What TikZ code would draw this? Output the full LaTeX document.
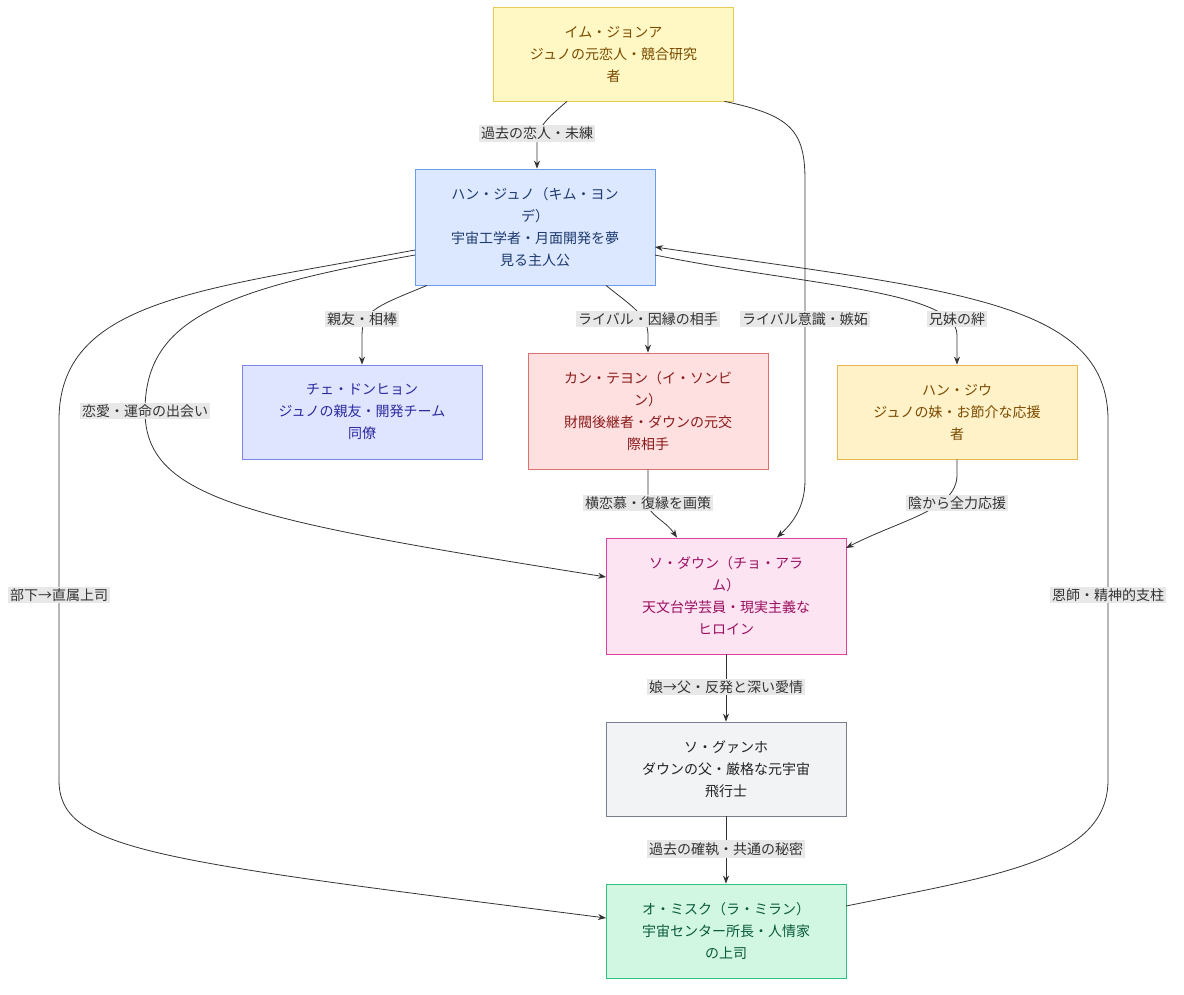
\documentclass[tikz,border=0pt]{standalone}
\usepackage{fontspec}
\newfontfamily\cjk{Noto Sans CJK JP}
\usetikzlibrary{arrows.meta}
\definecolor{lbl}{HTML}{E8E8E8}
\definecolor{f1}{HTML}{FFF8C4}\definecolor{d1}{HTML}{E6CC55}\definecolor{t1}{HTML}{7A4A00}
\definecolor{f2}{HTML}{DBE8FF}\definecolor{d2}{HTML}{6C9BE8}\definecolor{t2}{HTML}{1E3A6E}
\definecolor{f3}{HTML}{E0E5FF}\definecolor{d3}{HTML}{7C84F0}\definecolor{t3}{HTML}{2A2AA0}
\definecolor{f4}{HTML}{FFE0E0}\definecolor{d4}{HTML}{E07070}\definecolor{t4}{HTML}{8A1A1A}
\definecolor{f5}{HTML}{FFF2C8}\definecolor{d5}{HTML}{E8B84F}\definecolor{t5}{HTML}{7A4A00}
\definecolor{f6}{HTML}{FDE4F2}\definecolor{d6}{HTML}{E040A0}\definecolor{t6}{HTML}{9A1060}
\definecolor{f7}{HTML}{F1F3F5}\definecolor{d7}{HTML}{7A7F90}\definecolor{t7}{HTML}{222222}
\definecolor{f8}{HTML}{D1F7E3}\definecolor{d8}{HTML}{30C080}\definecolor{t8}{HTML}{0A5A3A}
\tikzset{
 box/.style={draw, line width=0.8pt, minimum width=240pt, align=center, font=\cjk\fontsize{14}{22}\selectfont, inner sep=4pt},
 lab/.style={fill=lbl, text=black!80, font=\cjk\fontsize{14}{18}\selectfont, inner sep=2pt},
 ed/.style={draw=black!80, line width=0.8pt, -{Stealth[length=8pt,width=6pt]}},
}
\begin{document}
\begin{tikzpicture}[x=1pt,y=-1pt]
\useasboundingbox (0,0) rectangle (1184,994);
\node[box, minimum height=94pt, fill=f1, draw=d1, text=t1] (im) at (613.5,54) {イム・ジョンア\\ジュノの元恋人・競合研究\\者};
\node[box, minimum height=116pt, fill=f2, draw=d2, text=t2] (han) at (535,227) {ハン・ジュノ（キム・ヨン\\デ）\\宇宙工学者・月面開発を夢\\見る主人公};
\node[box, minimum height=94pt, fill=f3, draw=d3, text=t3] (che) at (362,412) {チェ・ドンヒョン\\ジュノの親友・開発チーム\\同僚};
\node[box, minimum height=116pt, fill=f4, draw=d4, text=t4] (kang) at (648,411) {カン・テヨン（イ・ソンビ\\ン）\\財閥後継者・ダウンの元交\\際相手};
\node[box, minimum height=94pt, fill=f5, draw=d5, text=t5] (jiu) at (957,412) {ハン・ジウ\\ジュノの妹・お節介な応援\\者};
\node[box, minimum height=116pt, fill=f6, draw=d6, text=t6] (so) at (726,596) {ソ・ダウン（チョ・アラ\\ム）\\天文台学芸員・現実主義な\\ヒロイン};
\node[box, minimum height=94pt, fill=f7, draw=d7, text=t7] (gw) at (726,769) {ソ・グァンホ\\ダウンの父・厳格な元宇宙\\飛行士};
\node[box, minimum height=94pt, fill=f8, draw=d8, text=t8] (oh) at (726,931) {オ・ミスク（ラ・ミラン）\\宇宙センター所長・人情家\\の上司};
% edges
\path[ed] ([xshift=-46.5pt]im.south) .. controls (545,120) and (537,128) .. (537,145) -- ([xshift=2pt]han.north);
\path[ed] ([xshift=111pt]im.south) .. controls (790,115) and (805,130) .. (805,180) -- (805,480) .. controls (805,510) and (790,525) .. ([xshift=51pt]so.north);
\path[ed] ([xshift=-108pt]han.south) .. controls (380,305) and (362,310) .. (362,335) -- (che.north);
\path[ed] ([xshift=71pt]han.south) .. controls (630,305) and (648,315) .. (648,335) -- (kang.north);
\path[ed] (655,255) .. controls (800,285) and (957,290) .. (957,335) -- (jiu.north);
\path[ed] (415,255) .. controls (220,290) and (145,320) .. (145,411) .. controls (145,500) and (250,520) .. (606,577);
\path[ed] (415,250) .. controls (200,290) and (59,300) .. (59,420) -- (59,780) .. controls (59,850) and (150,860) .. (606,918);
\path[ed] (kang.south) -- (648,503) .. controls (648,515) and (665,520) .. ([xshift=-49pt]so.north);
\path[ed] (jiu.south) -- (957,475) .. controls (957,510) and (900,520) .. (846,548);
\path[ed] (so.south) -- (gw.north);
\path[ed] (gw.south) -- (oh.north);
\path[ed] (846,906) .. controls (1000,875) and (1108,860) .. (1108,780) -- (1108,420) .. controls (1108,300) and (950,290) .. (655,247);
% labels
\node[lab] (l1) at (537,133) {過去の恋人・未練};
\node[lab] (l2) at (805,319) {ライバル意識・嫉妬};
\node[lab] (l3) at (362,319) {親友・相棒};
\node[lab] (l4) at (648,319) {ライバル・因縁の相手};
\node[lab] (l5) at (957,319) {兄妹の絆};
\node[lab] (l6) at (145,411) {恋愛・運命の出会い};
\node[lab] (l7) at (59,595) {部下→直属上司};
\node[lab] (l8) at (648,503) {横恋慕・復縁を画策};
\node[lab] (l9) at (957,503) {陰から全力応援};
\node[lab] (l10) at (726,687) {娘→父・反発と深い愛情};
\node[lab] (l11) at (726,849) {過去の確執・共通の秘密};
\node[lab] (l12) at (1108,595) {恩師・精神的支柱};
\end{tikzpicture}
\end{document}
